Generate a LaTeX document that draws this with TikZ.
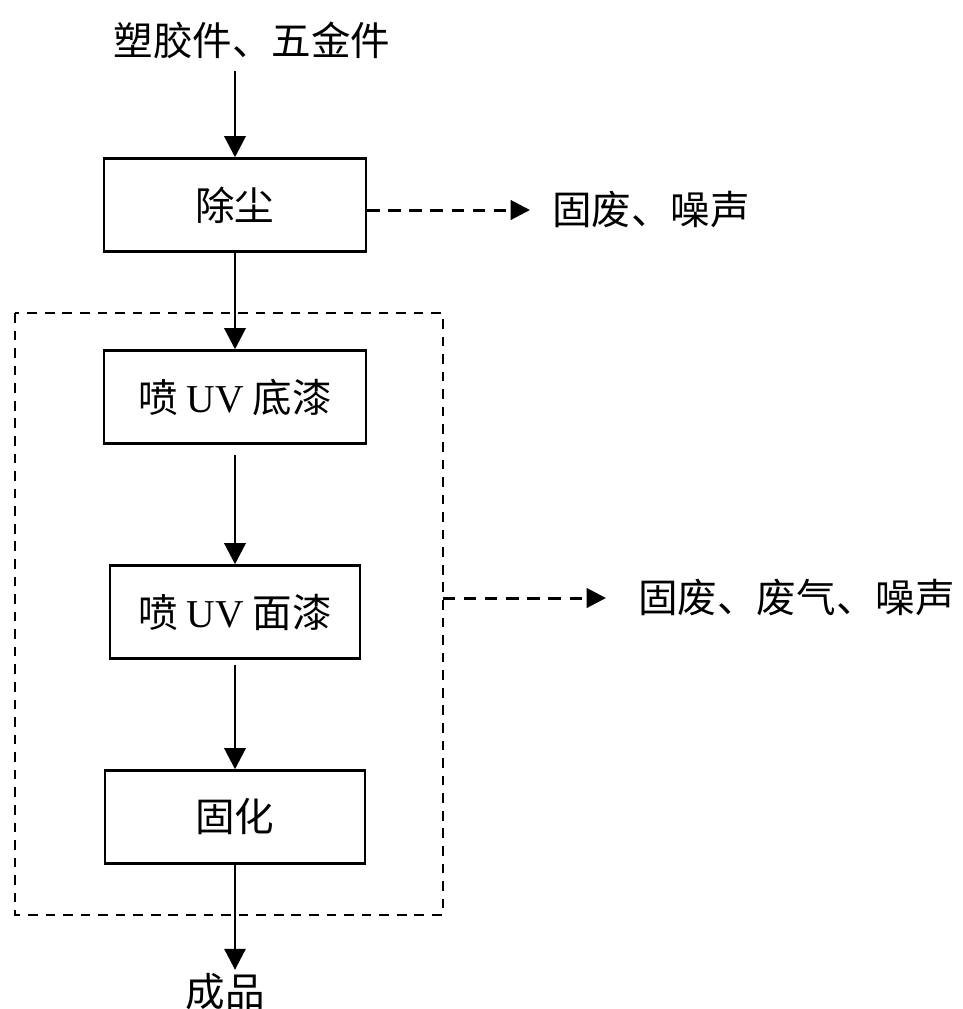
\documentclass[tikz,border=0pt]{standalone}
\usepackage{fontspec}
\setmainfont{Liberation Serif}
\newfontfamily\cjk{Noto Sans CJK SC}
\usetikzlibrary{arrows.meta,positioning}

\begin{document}
\begin{tikzpicture}[x=0.02cm,y=-0.02cm,>={Triangle[length=12pt,width=12pt]}]

\tikzset{
  box/.style={draw,line width=1.4pt,minimum width=5.24cm,minimum height=1.86cm,
    inner sep=0pt,font=\cjk\fontsize{22.5}{26}\selectfont},
  txt/.style={inner sep=0pt,font=\cjk\fontsize{22.5}{26}\selectfont},
  flow/.style={line width=1.7pt,->},
  waste/.style={line width=1.7pt,dash pattern=on 7pt off 5pt,
    -{Triangle[length=11pt,width=11pt]}},
  region/.style={line width=1.5pt,dash pattern=on 5.5pt off 4.5pt}
}

\useasboundingbox (0,0) rectangle (963,1009);

% ============================================================
% 1. MAIN LINE
% ============================================================

\node[txt] (feed) at (252,40) {塑胶件、五金件};

\node[box] (dust) at (235,205) {除尘};
\node[box] (base) at (235,397) {喷 {\rmfamily UV} 底漆};
\node[box,minimum width=5cm] (top) at (235,612) {喷 {\rmfamily UV} 面漆};
\node[box,minimum width=5.2cm] (cure) at (235,817) {固化};

\node[txt] (product) at (225,992) {成品};

% arrows
\draw[flow] ([yshift=-7pt]feed.south -| dust.north) -- (dust.north);
\draw[flow] (dust.south) -- (base.north);
\draw[flow,shorten <=0.2cm] (base.south) -- (top.north);
\draw[flow,shorten <=0.1cm] (top.south) -- (cure.north);
\draw[flow] (cure.south) -- ([yshift=2pt]cure.south |- product.north);

% ============================================================
% 2. SPRAY AREA AND WASTE
% ============================================================

\coordinate (r1) at (15,313);
\coordinate (r2) at (443,915);
\draw[region] (r1) rectangle (r2);

\node[txt,anchor=west] (waste1) at (552,210) {固废、噪声};
\node[txt,anchor=west] (waste2) at (638,598) {固废、废气、噪声};

\draw[waste,shorten >=0.44cm] (dust.east |- waste1.west) -- (waste1.west);
\draw[waste,shorten >=0.64cm] (r2 |- waste2.west) -- (waste2.west);

\end{tikzpicture}
\end{document}
